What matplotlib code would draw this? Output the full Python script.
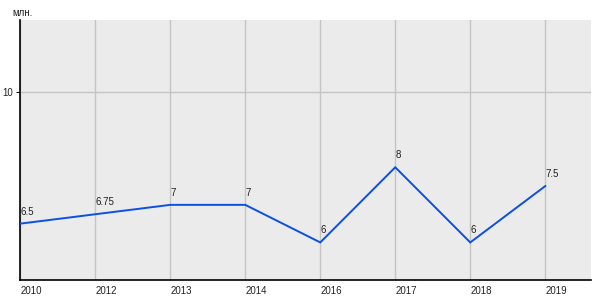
import matplotlib
matplotlib.use("Agg")
import matplotlib.pyplot as plt

years = ["2010", "2012", "2013", "2014", "2016", "2017", "2018", "2019"]
values = [6.5, 6.75, 7, 7, 6, 8, 6, 7.5]
point_labels = ["6.5", "6.75", "7", "7", "6", "8", "6", "7.5"]
y_ticks = [10]
unit_label = "млн."

plt.rcParams['font.family'] = ['Liberation Sans', 'DejaVu Sans']

fig = plt.figure(figsize=(6, 3), dpi=100)
ax = fig.add_axes([20.3/600, 20/300, (591-20.3)/600, 260/300])
ax.set_facecolor('#ebebeb')

x = list(range(len(years)))
ax.plot(x, values, color='#0a50e6', lw=1.4, solid_joinstyle='miter', zorder=3)

for xi, v, lab in zip(x, values, point_labels):
    ax.annotate(lab, (xi, v), xytext=(0, 5), textcoords='offset points',
                ha='left', va='bottom', fontsize=7, color='#222222', zorder=4)

ax.set_xlim(0, 7.61)
ax.set_ylim(5, 11.92)
ax.set_xticks(x)
ax.set_xticklabels(years, ha='left', fontsize=7, color='#222222')
ax.set_yticks(y_ticks)
ax.set_yticklabels([str(t) for t in y_ticks], fontsize=7, color='#222222')
ax.tick_params(axis='x', length=0, pad=4)
ax.tick_params(axis='y', length=3, width=0.8, pad=2)

ax.grid(True, color='#c4c4c4', lw=1.0, zorder=1)
ax.set_axisbelow(True)

for s in ['top', 'right']:
    ax.spines[s].set_visible(False)
for s in ['left', 'bottom']:
    ax.spines[s].set_color('black')
    ax.spines[s].set_linewidth(1.2)

fig.text(12/600, 1 - 13/300, unit_label, fontsize=7, color='#222222', va='center', ha='left')

fig.savefig('out.png', dpi=100, facecolor='white')
